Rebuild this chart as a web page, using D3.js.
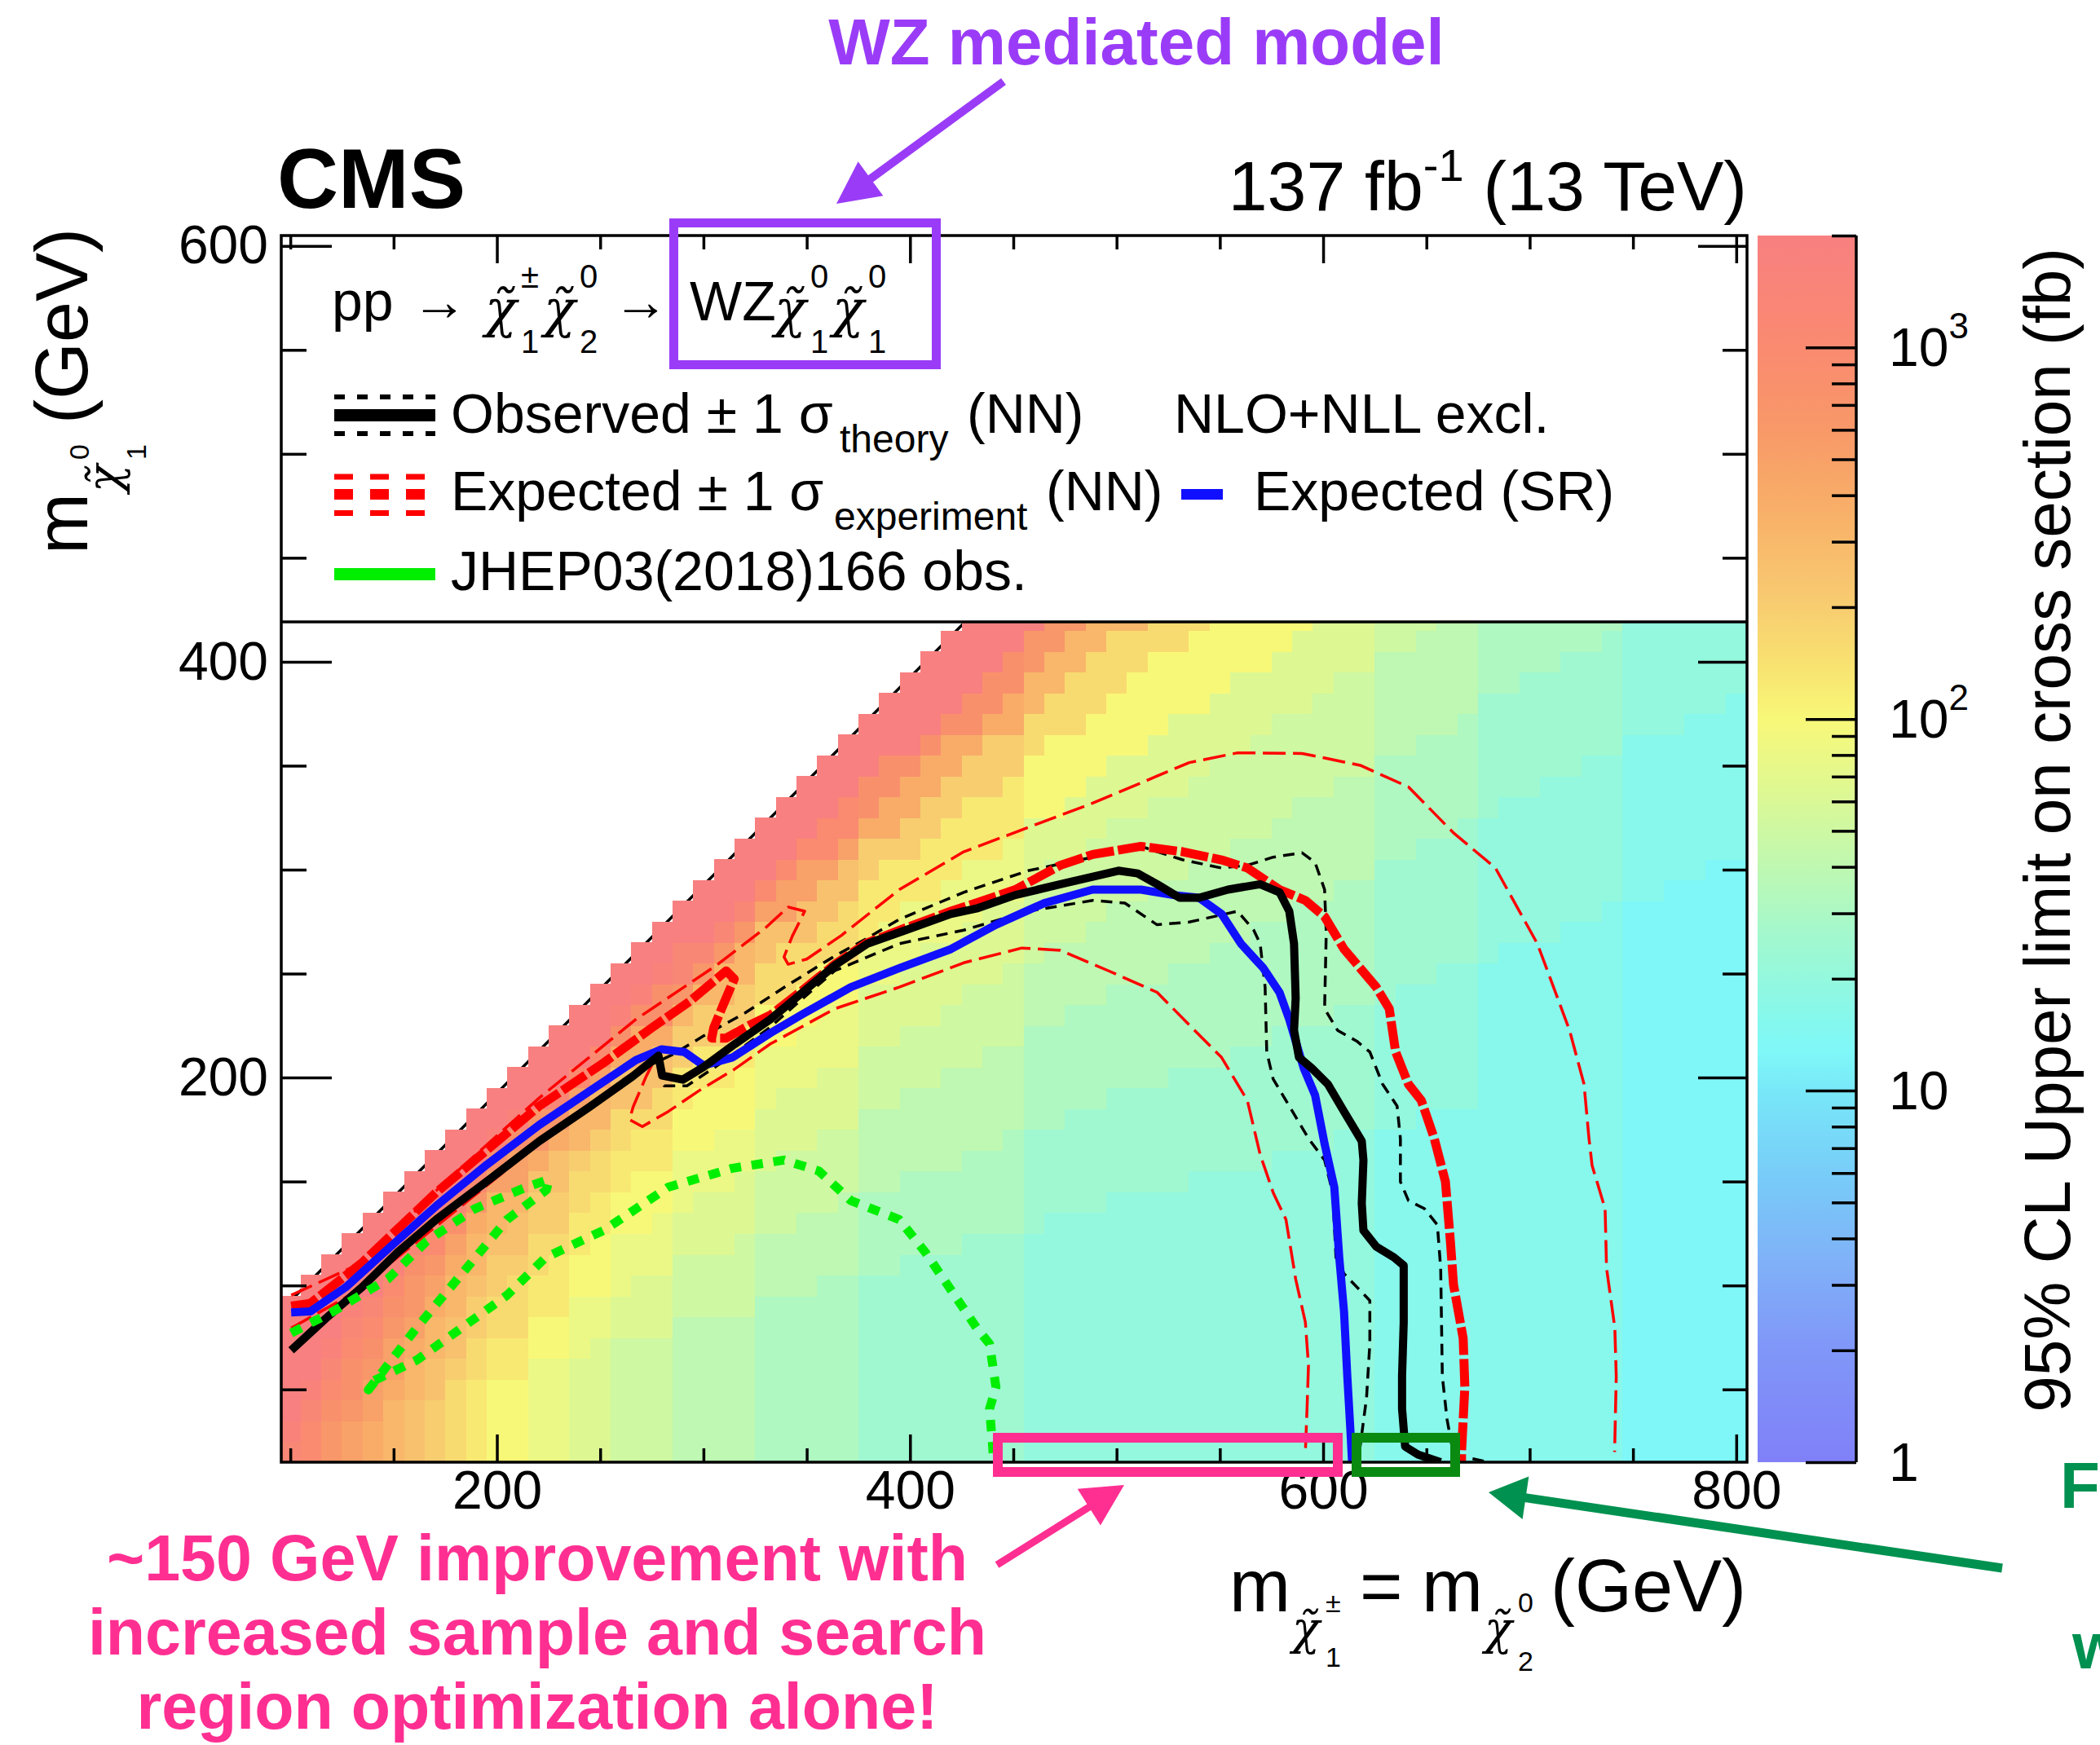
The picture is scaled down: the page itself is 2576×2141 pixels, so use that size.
<!DOCTYPE html>
<html><head><meta charset="utf-8">
<script src="https://cdn.jsdelivr.net/npm/d3@7"></script>
<style>
html,body{margin:0;padding:0;background:#fff;}
svg text{font-family:"Liberation Sans",Arial,Helvetica,sans-serif;fill:#000;}
svg text.chi{font-family:"DejaVu Serif",serif;font-style:italic;}
</style></head>
<body>
<svg id="chart" width="2576" height="2141" xmlns="http://www.w3.org/2000/svg"></svg>
<script>
// ================= DATA =================
const xTickMajor = [200, 400, 600, 800];
const xTickMinor = [100, 150, 250, 300, 350, 450, 500, 550, 650, 700, 750];
const yTickMajor = [200, 400, 600];
const yTickMinor = [50, 100, 150, 250, 300, 350, 450, 500, 550];
const zTickMajor = [1, 10, 100, 1000];
const zTickMinor = [2,3,4,5,6,7,8,9,20,30,40,50,60,70,80,90,200,300,400,500,600,700,800,900,2000];
const zTickLabels = [["1",""],["10",""],["10","2"],["10","3"]];

// heat-map: one string per x bin (GeV centre); characters from y = 20 GeV upward, 10 GeV bins
// character index in levelCodes / 10 = log10(95% CL upper limit in fb)
const levelCodes = "0123456789ABCDEFGHIJKLMNOPQRSTUVWXYZ";
const cellColumns = [
 [100,"VWXXXXXX"],
 [110,"UUVWXXXXX"],
 [120,"SSTUVWXXXX"],
 [130,"RRSTTUVWXXX"],
 [140,"QQRRSTUVXXXX"],
 [150,"PPPQRRSTUWXXX"],
 [160,"OOOPPQRSSTVXXX"],
 [170,"NNNOOPPQRSUUXXX"],
 [180,"MMMMNOOPPQRTVXXX"],
 [190,"LLLLMMNNOPPQSUXXX"],
 [200,"KKKKLLMMNNOPPRTWXX"],
 [210,"KKKKLLMMMNOOPRRTWXX"],
 [220,"JJJJJKKLLMMNNOQSSXXX"],
 [230,"JJJJJKKLLLMNNOOQSVXXX"],
 [240,"IIIIIJJJKKLLMMNPPRUXXX"],
 [250,"IIIIIIJJKKKLLMMNPPRUXXX"],
 [260,"HHHHHHIIJJJKKLLMMOOQTWXX"],
 [270,"HHHHHHIIIJJKKKLLMOOQQTWXX"],
 [280,"HHHHHHIIIJJJKKLLMMOOQTTWXX"],
 [290,"GGGGGGGHHHIIJJJKKLLNNPSVVXX"],
 [300,"GGGGGGGHHHIIIJJKKKLLNNPSVXXX"],
 [310,"GGGGGGGHHHIIIJJJKKLLNNPPSVXXX"],
 [320,"GGGGGGGHHHHIIIJJKKKLLNNPPSVXXX"],
 [330,"FFFFFFFFGGGHHHIIIJJJKKMMOORUXXX"],
 [340,"FFFFFFFFGGGHHHHIIIJJKKMMMORRUXXX"],
 [350,"FFFFFFFFGGGGHHHIIIJJJKKMMOORRUXXX"],
 [360,"FFFFFFFFFGGGHHHHIIIJJJKKMMOORUUXXX"],
 [370,"FFFFFFFFFGGGGHHHIIIJJJKKMMMOORUUXXX"],
 [380,"EEEEEEEEEFFFFGGGGHHHIIIJJLLLNNQTTXXX"],
 [390,"EEEEEEEEEFFFFGGGGHHHIIIJJJLLLNQQTTXXX"],
 [400,"EEEEEEEEEEFFFFGGGGHHHIIIJJJLLNNQQTXXXX"],
 [410,"EEEEEEEEEEFFFFGGGGHHHIIIIJJLLLNNQQTXXXX"],
 [420,"EEEEEEEEEEFFFFGGGGGHHHIIIJJJLLLNNQQTXXXX"],
 [430,"EEEEEEEEEEEFFFFGGGGHHHHIIIJJJLLLNNQTTXXXX"],
 [440,"EEEEEEEEEEEFFFFGGGGGHHHIIIIJJLLLNNNQTTXXX"],
 [450,"EEEEEEEEEEEFFFFFGGGGHHHHIIIJJJLLLNNQQTTXX"],
 [460,"DDDDDDDDDDDEEEEEFFFFFGGGHHHHIIIKKKMMPPSSX"],
 [470,"DDDDDDDDDDDDEEEEFFFFFGGGGHHHHIIKKKKMMPPSS"],
 [480,"DDDDDDDDDDDDEEEEEFFFFFGGGHHHHIIIKKKMMMPPS"],
 [490,"DDDDDDDDDDDDEEEEEFFFFFGGGGHHHHIIIKKKMMMPP"],
 [500,"DDDDDDDDDDDDDEEEEEFFFFFGGGGHHHHIIIKKKMMMP"],
 [510,"DDDDDDDDDDDDDEEEEEFFFFFGGGGHHHHIIIKKKKMMP"],
 [520,"DDDDDDDDDDDDDEEEEEFFFFFGGGGGHHHHIIIKKKKMM"],
 [530,"DDDDDDDDDDDDDEEEEEEFFFFFGGGGHHHHIIIIKKKMM"],
 [540,"DDDDDDDDDDDDDDEEEEEFFFFFGGGGGHHHHIIIKKKKM"],
 [550,"DDDDDDDDDDDDDDEEEEEFFFFFFGGGGHHHHHIIIKKKK"],
 [560,"DDDDDDDDDDDDDDEEEEEEFFFFFGGGGGHHHHIIIIKKK"],
 [570,"DDDDDDDDDDDDDDEEEEEEFFFFFFGGGGHHHHHIIIKKK"],
 [580,"DDDDDDDDDDDDDDDEEEEEEFFFFFGGGGGHHHHHIIIKK"],
 [590,"DDDDDDDDDDDDDDDEEEEEEFFFFFFGGGGGHHHHIIIIK"],
 [600,"DDDDDDDDDDDDDDDEEEEEEFFFFFFGGGGGHHHHHIIII"],
 [610,"DDDDDDDDDDDDDDDDEEEEEEFFFFFFGGGGGHHHHHIII"],
 [620,"DDDDDDDDDDDDDDDDEEEEEEFFFFFFGGGGGHHHHHIII"],
 [630,"CCCCCCCCCCCCCCCCDDDDDDEEEEEEEFFFFFGGGGGHH"],
 [640,"CCCCCCCCCCCCCCCCDDDDDDDEEEEEEFFFFFGGGGGHH"],
 [650,"CCCCCCCCCCCCCCCCCDDDDDDEEEEEEEFFFFFGGGGGH"],
 [660,"CCCCCCCCCCCCCCCCCDDDDDDDEEEEEEFFFFFGGGGGG"],
 [670,"CCCCCCCCCCCCCCCCCDDDDDDDEEEEEEEFFFFFGGGGG"],
 [680,"CCCCCCCCCCCCCCCCCCCCCCCCDDDDDDDEEEEEEFFFF"],
 [690,"CCCCCCCCCCCCCCCCCCCCCCCCCDDDDDDDEEEEEFFFF"],
 [700,"CCCCCCCCCCCCCCCCCCCCCCCCCDDDDDDDEEEEEEFFF"],
 [710,"CCCCCCCCCCCCCCCCCCCCCCCCCDDDDDDDDEEEEEFFF"],
 [720,"CCCCCCCCCCCCCCCCCCCCCCCCCCDDDDDDDEEEEEEFF"],
 [730,"CCCCCCCCCCCCCCCCCCCCCCCCCCDDDDDDDDEEEEEFF"],
 [740,"CCCCCCCCCCCCCCCCCCCCCCCCCCCDDDDDDDEEEEEEF"],
 [750,"BBBBBBBBBBBBBBBBBBBBBBBBBBBCCCCCCCCDDDDDD"],
 [760,"BBBBBBBBBBBBBBBBBBBBBBBBBBBCCCCCCCCDDDDDD"],
 [770,"BBBBBBBBBBBBBBBBBBBBBBBBBBBBCCCCCCCDDDDDD"],
 [780,"BBBBBBBBBBBBBBBBBBBBBBBBBBBBCCCCCCCCDDDDD"],
 [790,"BBBBBBBBBBBBBBBBBBBBBBBBBBBBBCCCCCCCDDDDD"],
 [800,"BBBBBBBBBBBBBBBBBBBBBBBBBBBBBCCCCCCCCDDDD"]
];

// colour palette (log10 of limit -> colour)
const paletteLog = [0, 0.32, 0.53, 0.74, 1.0, 1.11, 1.18, 1.4, 1.61, 1.82, 2.0, 2.16, 2.34, 2.56, 2.78, 3.0, 3.301];
const paletteColors = ["#8080f8","#8098f8","#80b0f8","#78c8f8","#78e8f8","#80f8f8","#84f8ee","#a0f8d0","#c0f8b0","#e0f890","#f8f878","#f8e070","#f8c870","#f8b068","#f89868","#fa8a70","#f88080"];

// contours  [m(chargino/neutralino2), m(neutralino1)] in GeV
const obsCentral = [[100.4,68.8],[117,84],[134.7,99.2],[152,116],[170.6,131.7],[195,150],[220.5,169.4],[245,186],[265.7,200.6],[278.2,210.5],[280,201],[290,199],[300,205],[315,216],[332.4,228],[348,241],[363.6,254],[379.2,264.3],[397.9,270.9],[419.8,278.7],[432.2,281.3],[451,287.8],[472.8,293],[500.9,299.5],[510.2,298.2],[519.6,293],[530.5,286.5],[539.9,286.5],[553.9,290.4],[569.5,293],[578.9,289.1],[583.6,280],[585.9,264.4],[586.7,238.3],[585.9,222.7],[588.3,209.7],[594.5,204.5],[602.3,196.8],[610.1,183.7],[618.7,169.4],[619.5,160.3],[618.7,139.5],[619.5,126.5],[625.7,118.7],[634.3,113.5],[639,109.6],[639,82.3],[638.2,56.3],[638.2,40.7],[639.7,22.5],[646,18.6],[656.9,15]];
const obsUp = [[272,205],[285,211],[300,220],[320,231],[340,244],[363.6,258.5],[379.2,267],[394.8,276.1],[426,289.1],[457.2,299.5],[488.4,306],[511.8,311.2],[532.1,304.7],[550.8,300.8],[563.3,302.1],[575.8,306],[589.8,308.1],[596.1,303.4],[600.7,290.4],[601.5,269.6],[600.7,233.1],[607,222.7],[616.3,217.5],[622.6,212.3],[628.8,196.8],[635.8,186.3],[637.4,170.7],[637.4,149.9],[641.3,140.8],[649.1,136.9],[655.3,129.1],[656.9,108.3],[657.7,56.3],[660,35.5],[663.1,18.6],[680,15]];
const obsDown = [[278,214],[281,196],[292,196],[310,208],[332,224],[348,238],[363.6,251.4],[394.8,264.4],[426,270.9],[457.2,280],[488.4,285.2],[504,283.9],[519.6,273.5],[535.2,274.8],[558.6,280],[566.4,270.9],[569.5,264.4],[571.9,243.5],[572.7,212.3],[575.8,199.3],[583.6,186.3],[592.9,170.7],[600.7,160.3],[604.6,144.7],[606.2,113.5],[610.1,105.7],[622.6,92.7],[622.6,71.9],[621,45.9],[617.9,22.5],[616,15]];
const diagEdge = [[95,87.5],[430,422.5]];
const expCentral = [[100.4,90.1],[109.7,91.4],[134.7,110.9],[170.6,144.7],[220.5,186.3],[251.7,207.1],[275.1,224],[293.8,237],[311,251.3],[314.9,247.4],[310,236],[305,224],[304,219],[311,219],[322,225],[332.4,230],[348,242],[363.6,254.5],[379.2,264.8],[397.9,272],[419.8,280],[432.2,284],[451,290.4],[472.8,302.1],[488.4,307.3],[511.8,311.2],[532.1,308.6],[550.8,304.7],[563.3,300.8],[578.9,290.4],[591.4,285.2],[600.7,277.4],[610.1,261.8],[625.7,243.5],[632,233.1],[635.1,212.3],[641.3,196.8],[647.5,189],[653.8,170.7],[659.2,149.9],[661.6,121.3],[663.1,100.5],[667.8,74.5],[668.6,51.1],[667,19.9],[667,15]];
const expUp = [[100.4,95.3],[134.7,110.9],[173.7,148.6],[220.5,190.2],[267.3,228],[306.3,254],[330,272],[341,282],[349,280],[343,268],[339,258],[341,254.5],[350,257],[366.7,268.3],[394.8,290.4],[426,308.6],[457.2,320.3],[488.4,332],[519.6,345],[535.2,351.5],[558.6,356.2],[589.8,355.9],[617.9,350.2],[641.3,339.8],[663.1,317.7],[683.4,300.8],[703.7,264.4],[719.3,222.7],[726.3,196.8],[728.7,170.7],[730.2,157.7],[736.5,136.9],[737.2,108.3],[741.2,79.7],[741.9,56.3],[741.1,19.9]];
const expDown = [[100.4,79.5],[130,96],[170,128],[220,168],[260,195],[279,214],[272,200],[266,186],[264.2,179.8],[270.4,176.4],[283,183.7],[298.5,194.1],[315,204],[332.4,216.2],[363.6,233.1],[394.8,243.5],[426,255.2],[454.1,262.3],[472.8,261.2],[496.2,251.3],[519.6,241],[535.2,225.3],[550.8,209.7],[563.3,189],[569.5,163],[575.8,144.7],[582,131.7],[586.7,103.1],[591.4,82.3],[592.9,61.5],[592.2,40.7],[591.4,19.9]];
const expSR = [[100.4,87],[109.7,87.5],[126.9,99.2],[150,120],[170.6,138.2],[195,158],[220.5,177.2],[251.7,198],[267.3,208.4],[279.8,213.6],[290.7,212.3],[300.1,205.8],[314.1,209.7],[332.4,221.4],[348,230.5],[371.4,243.5],[394.8,252.6],[419.8,261.8],[441.6,273.5],[465,283.9],[488.4,290.4],[511.8,290.4],[527.4,287.8],[539.9,286.5],[550.8,278.7],[560.2,264.4],[571.1,252.6],[578.9,240.9],[583.6,227.9],[590.6,204.5],[596.1,191.5],[600.7,168.1],[605.4,147.3],[607.8,113.5],[610.1,87.5],[611.7,56.3],[613.2,30.3],[614,15]];
const jhepObs = [[100.4,77.1],[120.7,87.5],[147.2,103.1],[166,121.3],[189.3,136.9],[214.3,147.3],[225.2,151],[224,146],[204.9,131.7],[183.1,105.7],[161.2,79.7],[137.8,49.8],[139.4,53.7],[161.2,64.1],[183.1,79.7],[204.9,95.3],[223.6,113.5],[251.7,126.5],[283,147.3],[314.1,156.4],[339,160.3],[355.8,155.1],[371.4,140.8],[394.8,131.7],[407.3,116.1],[419.8,97.9],[432.2,79.7],[438.5,71.9],[441.6,51.1],[438.5,40.7],[440,22.5],[440.5,15]];

// ================= DRAW =================
const svg = d3.select('#chart');
const FR = {l:345, r:2143, t:289, b:1794};
const LEG_B = 763;
const x = d3.scaleLinear().domain([95.6, 805.2]).range([FR.l, FR.r]);
const y = d3.scaleLinear().domain([15, 605]).range([FR.b, FR.t]);
const z = d3.scaleLog().domain([1, 2000]).range([FR.b, FR.t]);
const pal = d3.scaleLinear().domain(paletteLog).range(paletteColors).clamp(true);

const defs = svg.append('defs');
defs.append('clipPath').attr('id','plotClip').append('rect')
  .attr('x',FR.l).attr('y',FR.t).attr('width',FR.r-FR.l).attr('height',FR.b-FR.t);

const plot = svg.append('g').attr('clip-path','url(#plotClip)');
const line = d3.line().x(d => x(d[0])).y(d => y(d[1]));

// diagonal theory-band edge (visible only at the staircase corners)
plot.append('path').attr('d', line(diagEdge)).attr('fill','none')
  .attr('stroke','#000').attr('stroke-width',3.5);

// heat-map cells
const cells = [];
cellColumns.forEach(([xc, codes]) => {
  codes.split('').forEach((ch, i) => cells.push({x:xc, y:20 + 10*i, v:levelCodes.indexOf(ch)/10}));
});
plot.append('g').selectAll('rect').data(cells).join('rect')
  .attr('x', d => x(d.x-5)).attr('y', d => y(d.y+5))
  .attr('width', d => x(d.x+5) - x(d.x-5) + 0.6)
  .attr('height', d => y(d.y-5) - y(d.y+5) + 0.6)
  .attr('fill', d => pal(d.v)).attr('shape-rendering','crispEdges');

function contour(data, color, w, dash){
  plot.append('path').attr('d', line(data)).attr('fill','none')
    .attr('stroke', color).attr('stroke-width', w)
    .attr('stroke-dasharray', dash || null).attr('stroke-linejoin','round');
}
contour(expUp, '#ff0000', 3.5, '28,9');
contour(expDown, '#ff0000', 3.5, '28,9');
contour(obsUp, '#000', 3.5, '14,9');
contour(obsDown, '#000', 3.5, '14,9');
contour(expCentral, '#ff0000', 11, '34,5');
contour(expSR, '#1010ff', 10);
contour(obsCentral, '#000', 10);
contour(jhepObs, '#00ee00', 11, '14,13');

// legend background
svg.append('rect').attr('x',FR.l).attr('y',FR.t).attr('width',FR.r-FR.l).attr('height',LEG_B-FR.t).attr('fill','#fff');
svg.append('line').attr('x1',FR.l).attr('x2',FR.r).attr('y1',LEG_B).attr('y2',LEG_B).attr('stroke','#000').attr('stroke-width',3.5);

// frame
svg.append('rect').attr('x',FR.l).attr('y',FR.t).attr('width',FR.r-FR.l).attr('height',FR.b-FR.t)
  .attr('fill','none').attr('stroke','#000').attr('stroke-width',3.5);

function axisG(axis, tx, ty, fs){
  const g = svg.append('g').attr('transform',`translate(${tx},${ty})`).call(axis);
  g.select('.domain').remove();
  g.attr('font-size', fs || 66).attr('font-family','"Liberation Sans", Arial, sans-serif');
  g.selectAll('line').attr('stroke','#000').attr('stroke-width',3.5);
  g.selectAll('text').attr('fill','#000');
  return g;
}
const fmt = d3.format('d');
axisG(d3.axisBottom(x).tickValues(xTickMajor).tickSizeInner(-34).tickSizeOuter(0).tickPadding(10).tickFormat(fmt), 0, FR.b);
axisG(d3.axisBottom(x).tickValues(xTickMinor).tickSizeInner(-17).tickSizeOuter(0).tickFormat(''), 0, FR.b);
axisG(d3.axisTop(x).tickValues(xTickMajor).tickSizeInner(-34).tickSizeOuter(0).tickFormat(''), 0, FR.t);
axisG(d3.axisTop(x).tickValues(xTickMinor).tickSizeInner(-17).tickSizeOuter(0).tickFormat(''), 0, FR.t);
axisG(d3.axisLeft(y).tickValues(yTickMajor).tickSizeInner(-62).tickSizeOuter(0).tickPadding(16).tickFormat(fmt), FR.l, 0);
axisG(d3.axisLeft(y).tickValues(yTickMinor).tickSizeInner(-31).tickSizeOuter(0).tickFormat(''), FR.l, 0);
axisG(d3.axisRight(y).tickValues(yTickMajor).tickSizeInner(-60).tickSizeOuter(0).tickFormat(''), FR.r, 0);
axisG(d3.axisRight(y).tickValues(yTickMinor).tickSizeInner(-30).tickSizeOuter(0).tickFormat(''), FR.r, 0);

// colour bar
const CB = {l:2156, r:2277};
const grad = defs.append('linearGradient').attr('id','zgrad').attr('x1',0).attr('y1',1).attr('x2',0).attr('y2',0);
paletteLog.forEach((v,i) => grad.append('stop').attr('offset', v/Math.log10(2000)).attr('stop-color', paletteColors[i]));
svg.append('rect').attr('x',CB.l).attr('y',FR.t).attr('width',CB.r-CB.l).attr('height',FR.b-FR.t).attr('fill','url(#zgrad)');
axisG(d3.axisRight(z).tickValues(zTickMajor).tickSizeInner(-62).tickSizeOuter(0).tickFormat(''), CB.r, 0);
axisG(d3.axisRight(z).tickValues(zTickMinor).tickSizeInner(-30).tickSizeOuter(0).tickFormat(''), CB.r, 0);
svg.append('line').attr('x1',CB.r).attr('x2',CB.r).attr('y1',FR.t).attr('y2',FR.b).attr('stroke','#000').attr('stroke-width',3.5);
zTickMajor.forEach((v,i) => {
  const t = svg.append('text').attr('x',2317).attr('y', z(v)+23).attr('font-size',66).text(zTickLabels[i][0]);
  if (zTickLabels[i][1]) t.append('tspan').attr('dy',-34).attr('font-size',44).text(zTickLabels[i][1]);
});
svg.append('text').attr('transform','translate(2539,304) rotate(-90)').attr('text-anchor','end')
  .attr('font-size',80).text('95% CL Upper limit on cross section (fb)');

// titles
svg.append('text').attr('x',340).attr('y',255).attr('font-size',104).attr('font-weight','bold').text('CMS');
const lumi = svg.append('text').attr('x',FR.r).attr('y',258).attr('text-anchor','end').attr('font-size',86);
lumi.append('tspan').text('137 fb');
lumi.append('tspan').attr('dy',-36).attr('font-size',56).text('-1');
lumi.append('tspan').attr('dy',36).text(' (13 TeV)');

// helpers
function piece(g, tx, ty, fs, s, anchor){
  return g.append('text').attr('x',tx).attr('y',ty).attr('font-size',fs).attr('text-anchor',anchor||'start').text(s);
}
function chiGlyph(g, tx, ty, fs){
  return g.append('text').attr('class','chi').attr('x',tx).attr('y',ty).attr('font-size',fs).text('χ\u0303');
}
// y-axis title (rotated)
const yt = svg.append('g').attr('transform','translate(107,680) rotate(-90)');
piece(yt, 0, 0, 90, 'm');
chiGlyph(yt, 76, 40, 56);
piece(yt, 116, 2, 34, '0');
piece(yt, 116, 72, 34, '1');
piece(yt, 160, 0, 90, '(GeV)');
// x-axis title
const xt = svg.append('g');
piece(xt, 1508, 1977, 90, 'm');
chiGlyph(xt, 1585, 2017, 56);
piece(xt, 1626, 1978, 34, '±');
piece(xt, 1626, 2045, 34, '1');
piece(xt, 1668, 1977, 90, '=');
piece(xt, 1744, 1977, 90, 'm');
chiGlyph(xt, 1821, 2017, 56);
piece(xt, 1862, 1978, 34, '0');
piece(xt, 1862, 2050, 34, '2');
piece(xt, 1902, 1977, 90, '(GeV)');

// legend
const lg = svg.append('g');
function chi(g, cx, base, sup, sub){
  chiGlyph(g, cx, base+8, 64);
  piece(g, cx+44, base-40, 40, sup);
  piece(g, cx+44, base+40, 40, sub);
}
const b1 = 393;
piece(lg, 407, b1, 68, 'pp');
piece(lg, 505, b1, 68, '→');
chi(lg, 595, b1, '±', '1');
chi(lg, 667, b1, '0', '2');
piece(lg, 752, b1, 68, '→');
piece(lg, 846, b1, 68, 'WZ');
chi(lg, 950, b1, '0', '1');
chi(lg, 1021, b1, '0', '1');

piece(lg, 553, 531, 68, 'Observed ± 1 σ');
piece(lg, 1030, 555, 48, 'theory');
piece(lg, 1186, 531, 68, '(NN)');
piece(lg, 1440, 531, 68, 'NLO+NLL excl.');
piece(lg, 553, 626, 68, 'Expected ± 1 σ');
piece(lg, 1023, 650, 48, 'experiment');
piece(lg, 1283, 626, 68, '(NN)');
piece(lg, 1538, 626, 68, 'Expected (SR)');
piece(lg, 553, 724, 68, 'JHEP03(2018)166 obs.');

function lsym(x1, x2, yy, color, w, dash){
  lg.append('line').attr('x1',x1).attr('x2',x2).attr('y1',yy).attr('y2',yy)
    .attr('stroke',color).attr('stroke-width',w).attr('stroke-dasharray',dash||null);
}
lsym(410, 534, 487, '#000', 6, '13,15');
lsym(410, 534, 509.5, '#000', 15);
lsym(410, 534, 532, '#000', 6, '13,15');
lsym(410, 534, 585, '#ff0000', 7, '23,21');
lsym(410, 534, 606.5, '#ff0000', 13, '23,21');
lsym(410, 534, 629.5, '#ff0000', 7, '23,21');
lsym(1449, 1500, 606.5, '#1010ff', 13);
lsym(410, 534, 704.5, '#00ee00', 15);

// annotations
function arrow(tail, tip, headLen, headW, lw, color){
  const dx = tip[0]-tail[0], dy = tip[1]-tail[1], L = Math.hypot(dx,dy), ux = dx/L, uy = dy/L;
  const bx = tip[0]-ux*headLen, by = tip[1]-uy*headLen;
  svg.append('line').attr('x1',tail[0]).attr('y1',tail[1]).attr('x2',bx+ux*4).attr('y2',by+uy*4)
    .attr('stroke',color).attr('stroke-width',lw);
  svg.append('polygon').attr('fill',color)
    .attr('points',[[tip[0],tip[1]],[bx-uy*headW/2,by+ux*headW/2],[bx+uy*headW/2,by-ux*headW/2]].map(p=>p.join(',')).join(' '));
}
const PURPLE = '#9a3cf7', PINK = '#ff2f92', DGREEN = '#009150', BOXGREEN = '#0b8a12';
svg.append('text').attr('x',1394).attr('y',79).attr('text-anchor','middle').attr('font-size',80)
  .attr('font-weight','bold').style('fill',PURPLE).text('WZ mediated model');
arrow([1231,100],[1026,250],52,52,10,PURPLE);
svg.append('rect').attr('x',826.5).attr('y',273.5).attr('width',322).attr('height',174)
  .attr('fill','none').attr('stroke',PURPLE).attr('stroke-width',11);

svg.append('rect').attr('x',1224).attr('y',1764).attr('width',417).attr('height',42)
  .attr('fill','none').attr('stroke',PINK).attr('stroke-width',12);
svg.append('rect').attr('x',1664).attr('y',1764).attr('width',121).attr('height',42)
  .attr('fill','none').attr('stroke',BOXGREEN).attr('stroke-width',12);

arrow([1223,1920],[1379,1822],51,53,9,PINK);
const pinkLines = ['~150 GeV improvement with','increased sample and search','region optimization alone!'];
pinkLines.forEach((s,i) => svg.append('text').attr('x',659).attr('y',1939 + i*91).attr('text-anchor','middle')
  .attr('font-size',79).attr('font-weight','bold').style('fill',PINK).text(s));

arrow([2456,1924],[1826,1831],46,53,11,DGREEN);
svg.append('text').attr('x',2527).attr('y',1850).attr('font-size',80).attr('font-weight','bold').style('fill',DGREEN).text('Further');
svg.append('text').attr('x',2542).attr('y',2047).attr('font-size',80).attr('font-weight','bold').style('fill',DGREEN).text('with');
</script>
</body></html>
